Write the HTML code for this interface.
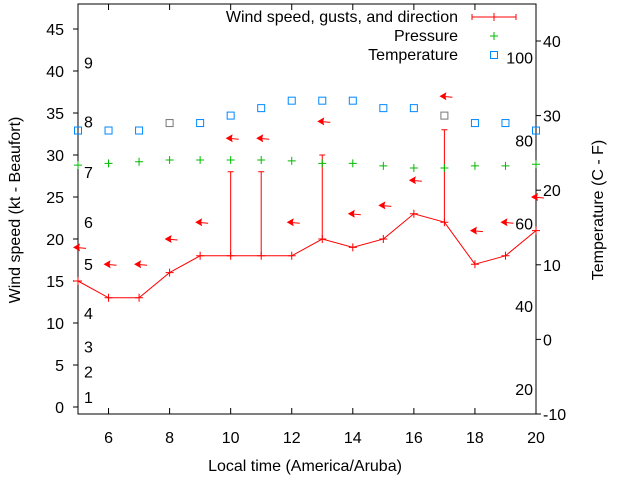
<!DOCTYPE html>
<html><head><meta charset="utf-8"><style>
body{margin:0;background:#fff}
svg{display:block;font-family:"Liberation Sans",sans-serif;font-size:16px}
</style></head><body>
<svg id="c" width="640" height="480" viewBox="0 0 640 480" xmlns="http://www.w3.org/2000/svg">
<g id="axes"></g><g id="marks"></g>
<text transform="translate(20,210) rotate(-90)" text-anchor="middle">Wind speed (kt - Beaufort)</text>
<text transform="translate(603,210) rotate(-90)" text-anchor="middle">Temperature (C - F)</text>
<text x="305" y="471" text-anchor="middle">Local time (America/Aruba)</text>
<g>
<text x="458" y="22" text-anchor="end">Wind speed, gusts, and direction</text>
<line x1="472" y1="17" x2="516" y2="17" stroke="#f00"/><line x1="494" y1="13" x2="494" y2="21" stroke="#f00"/><line x1="472" y1="14" x2="472" y2="20" stroke="#f00"/><line x1="516" y1="14" x2="516" y2="20" stroke="#f00"/>
<text x="458" y="41" text-anchor="end">Pressure</text>
<path d="M490 36h8M494 32v8" stroke="#0b0"/>
<text x="458" y="60" text-anchor="end">Temperature</text>
<rect x="490.5" y="51.5" width="7" height="7" fill="none" stroke="#08f"/>
</g>
</svg>
<script>
const hours=[5,6,7,8,9,10,11,12,13,14,15,16,17,18,19,20];
const wind=[15,13,13,16,18,18,18,18,20,19,20,23,22,17,18,21];
const gustHours=[10,11,13,17];
const gusts=[28,28,30,33];
const dirArrowY=[19,17,17,20,22,32,32,22,34,23,24,27,37,21,22,25];
const pressure=[28.8,29.0,29.2,29.4,29.4,29.4,29.4,29.3,29.0,29.0,28.7,28.45,28.45,28.7,28.7,28.9];
const tempC=[28,28,28,29,29,30,31,32,32,32,31,31,30,29,29,28];
const yTicks=[0,5,10,15,20,25,30,35,40,45];
const xTicks=[6,8,10,12,14,16,18,20];
const y2Ticks=[-10,0,10,20,30,40];
const beaufort=[[1,1.2],[2,4.2],[3,7.2],[4,11.2],[5,17],[6,22],[7,28],[8,34],[9,41]];
const fahr=[20,40,60,80,100];
const L=78,R=536,T=4,B=414;
const X=h=>L+(h-5)*(R-L)/15;
const Y=v=>407-v*8.4;
const Y2=c=>414-(c+10)*373/50;
const NS='http://www.w3.org/2000/svg';
function mk(p,t,a){const e=document.createElementNS(NS,t);for(const k in a)e.setAttribute(k,a[k]);p.appendChild(e);return e;}
const ax=document.getElementById('axes'),mg=document.getElementById('marks');
const fr=mk(ax,'rect',{x:L,y:T,width:R-L,height:B-T,fill:'none',stroke:'#000'});


yTicks.forEach(v=>{const y=Y(v);mk(ax,'line',{x1:L-5,y1:y,x2:L,y2:y,stroke:'#000'});
const t=mk(ax,'text',{x:L-14,y:y+6,'text-anchor':'end'});t.textContent=v;

});
xTicks.forEach(h=>{const x=X(h);mk(ax,'line',{x1:x,y1:B,x2:x,y2:B-6,stroke:'#000'});mk(ax,'line',{x1:x,y1:T,x2:x,y2:T+6,stroke:'#000'});
const t=mk(ax,'text',{x:x,y:443,'text-anchor':'middle'});t.textContent=h;

});
y2Ticks.forEach(c=>{const y=Y2(c);mk(ax,'line',{x1:R,y1:y,x2:R+5,y2:y,stroke:'#000'});
const t=mk(ax,'text',{x:543,y:y+6});t.textContent=c;

});
beaufort.forEach(([b,v])=>{const t=mk(ax,'text',{x:84,y:Y(v)+6});t.textContent=b;

});
fahr.forEach(f=>{const c=(f-32)*5/9;const t=mk(ax,'text',{x:533,y:Y2(c)+6,'text-anchor':'end'});t.textContent=f;

});
const pl=mk(mg,'polyline',{points:hours.map((h,i)=>X(h)+','+Y(wind[i])).join(' '),fill:'none',stroke:'#f00'});


hours.forEach((h,i)=>{const p=mk(mg,'path',{d:`M${X(h)-4} ${Y(wind[i])}h8M${X(h)} ${Y(wind[i])-4}v8`,stroke:'#f00'});

});
gustHours.forEach((h,i)=>{const x=X(h),wi=hours.indexOf(h);const p=mk(mg,'path',{d:`M${x} ${Y(wind[wi])}V${Y(gusts[i])}M${x-3} ${Y(gusts[i])}h6`,stroke:'#f00'});

});
hours.forEach((h,i)=>{const x=X(h)-3,y=Y(dirArrowY[i]);
const g=mk(mg,'g',{});


mk(g,'line',{x1:x,y1:y,x2:x+11,y2:y+1,stroke:'#f00'});
mk(g,'path',{d:`M${x-2} ${y}L${x+5} ${y-4}L${x+4} ${y}L${x+5} ${y+4}Z`,fill:'#f00'});});
hours.forEach((h,i)=>{const x=X(h),y=Y(pressure[i]);const p=mk(mg,'path',{d:`M${x-4} ${y}h8M${x} ${y-4}v8`,stroke:'#0b0'});

});
hours.forEach((h,i)=>{const x=X(h),y=Y2(tempC[i]);const r=mk(mg,'rect',{x:x-3.5,y:y-3.5,width:7,height:7,fill:'none',stroke:(h==8||h==17)?'#777':'#08f'});

});
</script>
</body></html>
